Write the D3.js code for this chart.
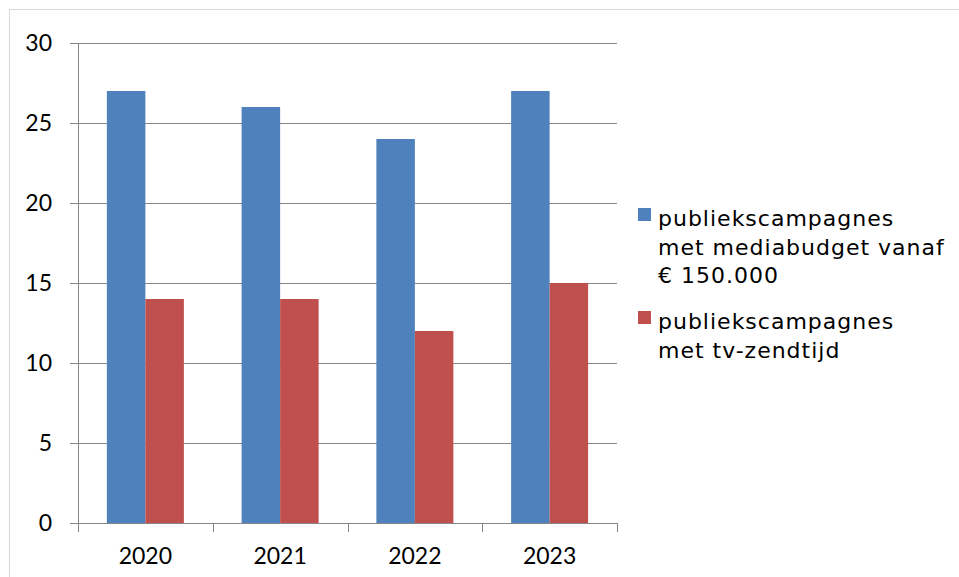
<!DOCTYPE html>
<html>
<head>
<meta charset="utf-8">
<script src="https://cdn.jsdelivr.net/npm/d3@7"></script>
<style>
    body { margin: 0; background: #fff; }
    svg { display: block; }
</style>
</head>
<body>
<svg id="chart" width="959" height="577"></svg>
<script>
// data
var years = ["2020", "2021", "2022", "2023"];
var mediabudget = [27, 26, 24, 27];
var tvZendtijd = [14, 14, 12, 15];
var seriesNames = [
    ["publiekscampagnes", "met mediabudget vanaf", "\u20ac 150.000"],
    ["publiekscampagnes", "met tv-zendtijd"]
];
var seriesColors = ["#4f81bd", "#c0504d"];
var yTicks = [0, 5, 10, 15, 20, 25, 30];

var margin = { top: 43, left: 78 },
    plotW = 539,
    plotH = 480;

var svg = d3.select("#chart");

// outer frame
svg.append("rect")
    .attr("x", 9.5).attr("y", 9.5)
    .attr("width", 980).attr("height", 600)
    .attr("fill", "none")
    .attr("stroke", "#d9d9d9");

var g = svg.append("g")
    .attr("transform", "translate(" + margin.left + "," + margin.top + ")");

var x = d3.scaleBand().domain(years).range([0, plotW]).paddingInner(0).paddingOuter(0);
var x1 = d3.scaleBand().domain([0, 1]).range([0, x.bandwidth()]).paddingOuter(0.75).paddingInner(0);
var y = d3.scaleLinear().domain([0, 30]).range([plotH, 0]);

// gridlines + y axis
var yAxis = d3.axisLeft(y).tickValues(yTicks).tickSize(8).tickPadding(18).tickSizeOuter(0);
var ya = g.append("g").call(yAxis);
ya.select(".domain").attr("stroke", "#868686");
ya.selectAll(".tick line").attr("stroke", "#868686");
ya.selectAll(".tick text")
    .attr("font-family", "Lato, 'Open Sans', sans-serif")
    .attr("font-size", 23)
    .attr("fill", "#000");

g.append("g").selectAll("line")
    .data(yTicks.filter(function(d) { return d > 0; }))
    .enter().append("line")
    .attr("x1", 0).attr("x2", plotW)
    .attr("y1", function(d) { return Math.round(y(d)) + 0.5; })
    .attr("y2", function(d) { return Math.round(y(d)) + 0.5; })
    .attr("stroke", "#868686");

// bars
var groups = g.append("g").selectAll("g")
    .data(years)
    .enter().append("g")
    .attr("transform", function(d) { return "translate(" + x(d) + ",0)"; });

groups.selectAll("rect")
    .data(function(d, i) { return [mediabudget[i], tvZendtijd[i]]; })
    .enter().append("rect")
    .attr("x", function(d, j) { return x1(j); })
    .attr("width", x1.bandwidth())
    .attr("y", function(d) { return y(d); })
    .attr("height", function(d) { return plotH - y(d); })
    .attr("fill", function(d, j) { return seriesColors[j]; });

// x axis
var xAxis = d3.axisBottom(x).tickSize(0).tickPadding(25);
var xa = g.append("g").attr("transform", "translate(0," + plotH + ")").call(xAxis);
xa.select(".domain").remove();
xa.append("line").attr("x1", 0).attr("x2", plotW).attr("y1", 0.5).attr("y2", 0.5).attr("stroke", "#868686");
xa.selectAll(".bound")
    .data(d3.range(years.length + 1))
    .enter().append("line")
    .attr("class", "bound")
    .attr("x1", function(i) { return Math.round(i * x.step()) + 0.5; })
    .attr("x2", function(i) { return Math.round(i * x.step()) + 0.5; })
    .attr("y1", 0).attr("y2", 9)
    .attr("stroke", "#868686");
xa.selectAll(".tick text")
    .attr("font-family", "Lato, 'Open Sans', sans-serif")
    .attr("font-size", 23)
    .attr("fill", "#000");

// legend
var legend = svg.append("g").attr("transform", "translate(638,0)");
var legendTop = [208, 311];
seriesNames.forEach(function(lines, i) {
    legend.append("rect")
        .attr("x", 0).attr("y", legendTop[i])
        .attr("width", 13).attr("height", 13)
        .attr("fill", seriesColors[i]);
    var t = legend.append("text")
        .attr("font-family", "'DejaVu Sans', Verdana, sans-serif")
        .attr("font-size", 22)
        .attr("letter-spacing", 1)
        .attr("fill", "#000");
    lines.forEach(function(line, k) {
        t.append("tspan")
            .attr("x", 20)
            .attr("y", legendTop[i] + 18 + k * 28.5)
            .text(line);
    });
});
</script>
</body>
</html>
